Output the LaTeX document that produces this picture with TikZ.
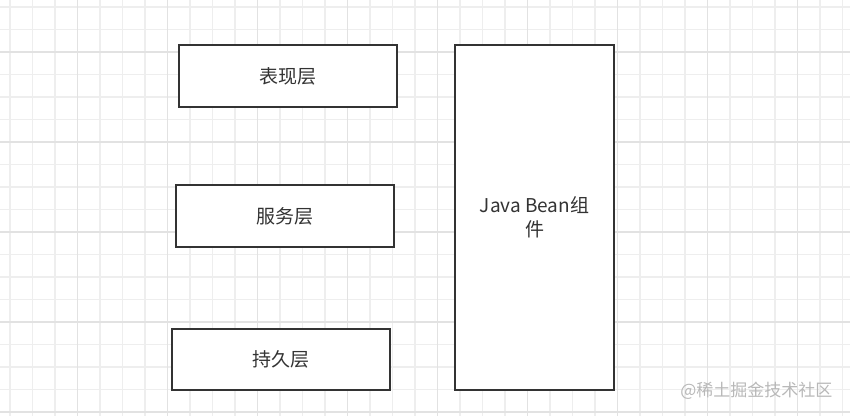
\documentclass[tikz,border=0pt]{standalone}
\usepackage{fontspec}
\setmainfont{Noto Sans CJK SC}
\definecolor{gridminor}{HTML}{EEEEEE}
\definecolor{gridmajor}{HTML}{E2E2E2}
\definecolor{boxline}{HTML}{333333}
\definecolor{wm}{HTML}{B8B8B8}
\begin{document}
\begin{tikzpicture}[x=1pt,y=-1pt,
  layerbox/.style={draw=boxline,line width=2.5pt,fill=white,inner sep=0pt,
    text=boxline,font=\fontsize{19}{24}\selectfont},
]
\useasboundingbox (0,0) rectangle (850,416);
\fill[white] (0,0) rectangle (850,416);
% grid
\foreach \i in {0,...,37} {
  \pgfmathsetmacro{\gx}{10+22.5*\i}
  \draw[gridminor,line width=1.5pt] (\gx,0) -- (\gx,416);
}
\foreach \j in {0,...,18} {
  \pgfmathsetmacro{\gy}{7+22.5*\j}
  \draw[gridminor,line width=1.5pt] (0,\gy) -- (850,\gy);
}
\foreach \i in {0,...,9} {
  \pgfmathsetmacro{\gx}{77.5+90*\i}
  \draw[gridmajor,line width=1.5pt] (\gx,0) -- (\gx,416);
}
\foreach \j in {0,...,4} {
  \pgfmathsetmacro{\gy}{52+90*\j}
  \draw[gridmajor,line width=1.5pt] (0,\gy) -- (850,\gy);
}
% boxes
\node[layerbox,minimum width=218pt,minimum height=62pt] (pres) at (288,76) {表现层};
\node[layerbox,minimum width=218pt,minimum height=62pt] (serv) at (285,216) {服务层};
\node[layerbox,minimum width=218pt,minimum height=61pt] (pers) at (281,359.5) {持久层};
\node[layerbox,minimum width=159pt,minimum height=345pt,align=center] (bean) at (534.5,217.5) {Java Bean组\\件};
% watermark
\node[text=wm,font=\fontsize{17}{20}\selectfont,anchor=east] (wmk) at (836,391) {@稀土掘金技术社区};
\end{tikzpicture}
\end{document}
